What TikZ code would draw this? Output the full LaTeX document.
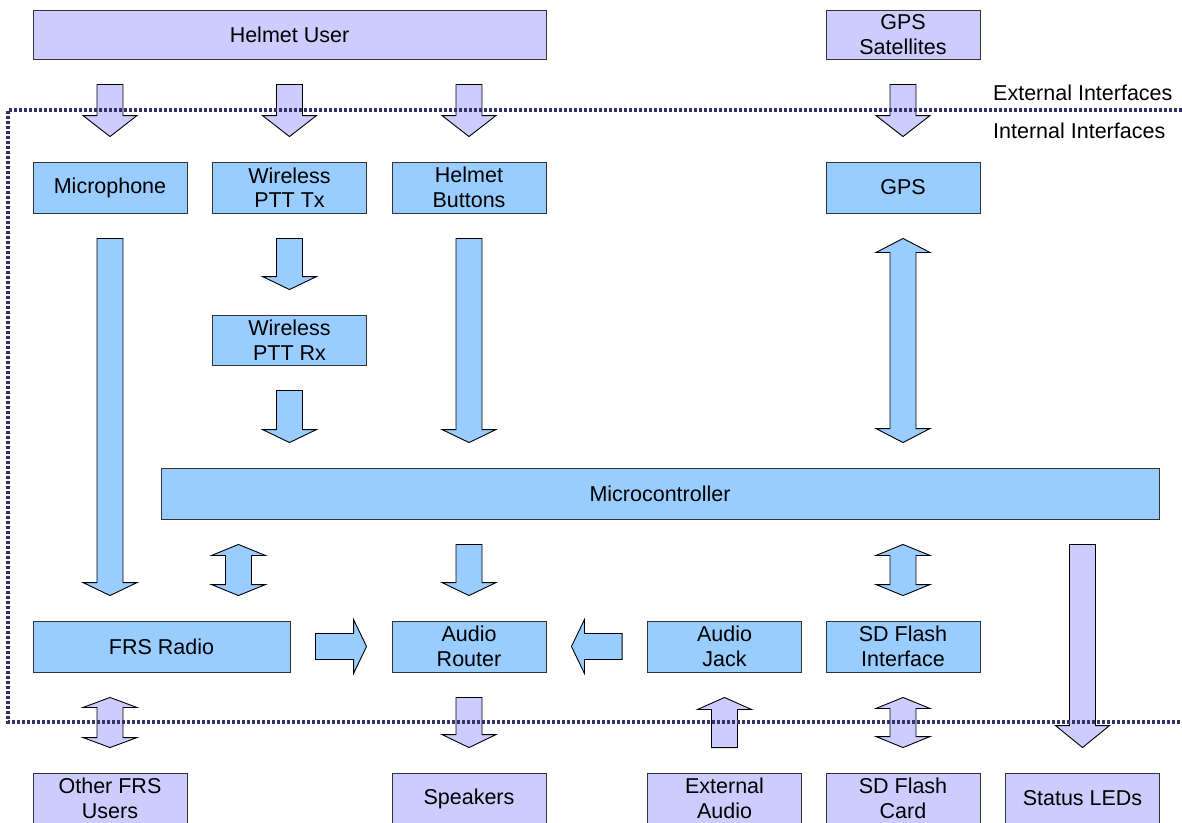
\documentclass[tikz,border=0pt]{standalone}
\usepackage{fontspec}
\setmainfont{Liberation Sans}
\usepackage{xcolor}
\usetikzlibrary{calc}

\definecolor{intblue}{HTML}{99CCFF}
\definecolor{extlav}{HTML}{CCCCFF}
\definecolor{bordernavy}{HTML}{333366}

\tikzset{
  blk/.style={draw=black!80, line width=0.9pt, fill=intblue, minimum width=154pt,
    minimum height=51pt, inner sep=0pt, align=center,
    font=\fontsize{21.5}{24.5}\selectfont},
  extblk/.style={blk, fill=extlav},
  arrowint/.style={draw=black, line width=0.9pt, fill=intblue},
  arrowext/.style={arrowint, fill=extlav},
  boundary/.style={draw=bordernavy, line width=3.2pt, dash pattern=on 3pt off 2pt},
  iflabel/.style={anchor=base west, inner sep=0pt, font=\fontsize{21.5}{24.5}\selectfont}
}

% block arrow: [head length]{style}{from}{to}
\newcommand{\blkarrow}[4][13]{
  \path ($(#3)!25pt!(#4)$) coordinate (p) ($(#4)!25pt!(#3)$) coordinate (q)
    ($(q)!#1pt!(p)$) coordinate (h);
  \draw[#2] ($(p)!13pt!90:(q)$) -- ($(h)!13pt!90:(q)$) -- ($(h)!27pt!90:(q)$) -- (q)
    -- ($(h)!27pt!-90:(q)$) -- ($(h)!13pt!-90:(q)$) -- ($(p)!13pt!-90:(q)$) -- cycle;
}
% block arrow with two heads
\newcommand{\blkboth}[4][13]{
  \path ($(#3)!25pt!(#4)$) coordinate (p) ($(#4)!25pt!(#3)$) coordinate (q)
    ($(q)!#1pt!(p)$) coordinate (h) ($(p)!#1pt!(q)$) coordinate (g);
  \draw[#2] (p) -- ($(g)!27pt!90:(q)$) -- ($(g)!13pt!90:(q)$) -- ($(h)!13pt!90:(q)$)
    -- ($(h)!27pt!90:(q)$) -- (q) -- ($(h)!27pt!-90:(q)$) -- ($(h)!13pt!-90:(q)$)
    -- ($(g)!13pt!-90:(q)$) -- ($(g)!27pt!-90:(q)$) -- cycle;
}

\begin{document}
\begin{tikzpicture}[x=1pt,y=-1pt]

\useasboundingbox (0,0) rectangle (1182,822);

% External sources
\node[extblk, minimum width=513pt, minimum height=49pt] (user) at (289.5,34.5) {Helmet User};
\node[extblk, minimum height=49pt] (sat) at (903,34.5) {GPS\\Satellites};

% Inputs
\node[blk] (mic) at (110,187.5) {Microphone};
\node[blk] (tx) at (289.5,187.5) {Wireless\\PTT Tx};
\node[blk] (btn) at (469,187.5) {Helmet\\Buttons};
\node[blk] (gps) at (903,187.5) {GPS};
\node[blk, minimum height=50pt] (rx) at (289.5,340) {Wireless\\PTT Rx};

% Controller
\node[blk, minimum width=998pt] (mcu) at (660,493.5) {Microcontroller};

% Audio and storage
\node[blk, minimum width=257pt] (frs) at (161.5,646.5) {FRS Radio};
\node[blk] (router) at (469,646.5) {Audio\\Router};
\node[blk] (jack) at (724.5,646.5) {Audio\\Jack};
\node[blk] (sdi) at (903,646.5) {SD Flash\\Interface};

% External sinks
\node[extblk] (others) at (110,798.5) {Other FRS\\Users};
\node[extblk] (speakers) at (469,798.5) {Speakers};
\node[extblk] (extaudio) at (724.5,798.5) {External\\Audio};
\node[extblk] (card) at (903,798.5) {SD Flash\\Card};
\node[extblk] (leds) at (1082.5,798.5) {Status LEDs};

% Interface labels
\node[iflabel] (extlbl) at (993,100) {External Interfaces};
\node[iflabel] (intlbl) at (993,138) {Internal Interfaces};

% Into the system
\blkarrow[21]{arrowext}{user.south -| mic}{mic.north}
\blkarrow[21]{arrowext}{user.south -| tx}{tx.north}
\blkarrow[21]{arrowext}{user.south -| btn}{btn.north}
\blkarrow[21]{arrowext}{sat.south}{gps.north}

% Internal links
\blkarrow{arrowint}{mic.south}{mic.south |- frs.north}
\blkarrow{arrowint}{tx.south}{rx.north}
\blkarrow{arrowint}{rx.south}{rx.south |- mcu.north}
\blkarrow{arrowint}{btn.south}{btn.south |- mcu.north}
\blkboth[14]{arrowint}{gps.south}{gps.south |- mcu.north}
\coordinate (tap) at ($(frs.north east)+(-52,0)$);
\blkboth[11]{arrowint}{mcu.south -| tap}{tap}
\blkarrow{arrowint}{mcu.south -| router}{router.north}
\blkboth[11]{arrowint}{mcu.south -| sdi}{sdi.north}
\blkarrow{arrowint}{frs.east}{router.west}
\blkarrow{arrowint}{jack.west}{router.east}

% Out of the system
\blkarrow[22]{arrowext}{mcu.south -| leds}{leds.north}
\blkboth[10]{arrowext}{frs.south -| others}{others.north}
\blkarrow{arrowext}{router.south}{speakers.north}
\blkarrow[12]{arrowext}{extaudio.north}{jack.south}
\blkboth[11]{arrowext}{sdi.south}{card.north}

% System boundary
\draw[boundary] (1182,110) -- (8,110) -- (8,722) -- (1182,722);

\end{tikzpicture}
\end{document}
